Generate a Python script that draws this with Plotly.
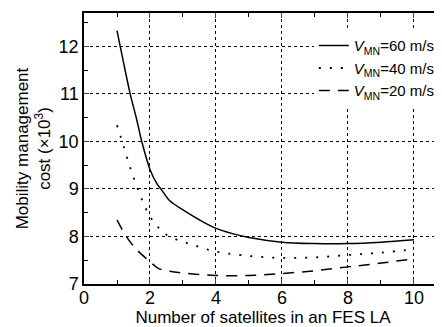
import plotly.graph_objects as go

x60 = [1, 1.2, 1.4, 1.6, 1.75, 2, 2.2, 2.35, 2.6, 3, 3.5, 4, 4.5, 5, 6, 7, 8, 9, 10]
y60 = [12.33, 11.65, 11.0, 10.45, 10.0, 9.41, 9.12, 8.98, 8.75, 8.56, 8.35, 8.17, 8.06, 7.98, 7.88, 7.85, 7.85, 7.88, 7.93]

x40 = [1, 1.2, 1.4, 1.6, 1.8, 2, 2.25, 2.55, 3, 3.5, 4, 5, 6, 7, 8, 9, 10]
y40 = [10.34, 9.9, 9.45, 9.05, 8.7, 8.42, 8.19, 8.01, 7.89, 7.78, 7.68, 7.59, 7.55, 7.56, 7.61, 7.66, 7.73]

x20 = [1, 1.3, 1.6, 2, 2.25, 2.6, 3, 3.5, 4, 5, 6, 7, 8, 9, 10]
y20 = [8.35, 7.98, 7.72, 7.47, 7.33, 7.27, 7.23, 7.2, 7.18, 7.18, 7.22, 7.28, 7.36, 7.44, 7.53]

names = ["<i>V</i><sub>MN</sub>=60 m/s", "<i>V</i><sub>MN</sub>=40 m/s", "<i>V</i><sub>MN</sub>=20 m/s"]

x_ticks = [0, 2, 4, 6, 8, 10]
y_ticks = [7, 8, 9, 10, 11, 12]
x_minor = [1, 3, 5, 7, 9]
y_minor = [7.5, 8.5, 9.5, 10.5, 11.5, 12.5]

X_RANGE = [0, 10.85]
Y_RANGE = [7, 12.7]

fig = go.Figure()
fig.add_trace(go.Scatter(x=x60, y=y60, mode="lines", name=names[0],
                         line=dict(color="black", width=1.5, shape="spline")))
fig.add_trace(go.Scatter(x=x40, y=y40, mode="lines", name=names[1],
                         line=dict(color="black", width=1.8, dash="2px,9px", shape="spline")))
fig.add_trace(go.Scatter(x=x20, y=y20, mode="lines", name=names[2],
                         line=dict(color="black", width=1.5, dash="11px,8px", shape="spline")))

font = "Liberation Sans, Arial, sans-serif"
fig.update_layout(
    width=434, height=319,
    margin=dict(l=76, r=0, t=5, b=43, autoexpand=False),
    paper_bgcolor="white", plot_bgcolor="white",
    font=dict(family=font, size=18, color="black"),
    showlegend=True,
    legend=dict(x=0.642, y=0.94, xanchor="left", yanchor="top",
                bgcolor="white", borderwidth=0, font=dict(size=15),
                tracegroupgap=0, itemwidth=30),
    xaxis=dict(range=X_RANGE, tickvals=x_ticks, ticks="inside", ticklen=5,
               ticklabelstandoff=-3,
               showline=True, linecolor="black", linewidth=1.5, mirror="ticks",
               showgrid=True, gridcolor="black", griddash="dot", gridwidth=1,
               zeroline=False, automargin=True,
               title=dict(text="Number of satellites in an FES LA", font=dict(size=17), standoff=2)),
    yaxis=dict(range=Y_RANGE, tickvals=y_ticks, ticks="inside", ticklen=5,
               showline=True, linecolor="black", linewidth=1.5, mirror="ticks",
               showgrid=True, gridcolor="black", griddash="dot", gridwidth=1,
               zeroline=False, automargin=True,
               title=dict(text="Mobility management<br>cost (×10<sup>3</sup>)", font=dict(size=17), standoff=4)),
    xaxis2=dict(range=X_RANGE, overlaying="x", anchor="y", side="bottom", tickvals=x_minor,
                ticks="inside", ticklen=4, tickcolor="black", showticklabels=False,
                showgrid=False, zeroline=False, showline=False, mirror="ticks", automargin=False),
    yaxis2=dict(range=Y_RANGE, overlaying="y", anchor="x", side="left", tickvals=y_minor,
                ticks="inside", ticklen=4, tickcolor="black", showticklabels=False,
                showgrid=False, zeroline=False, showline=False, mirror="ticks", automargin=False),
)
# invisible helper trace to activate the minor-tick axes
fig.add_trace(go.Scatter(x=[X_RANGE[0]], y=[Y_RANGE[0]], xaxis="x2", yaxis="y2",
                         mode="markers", marker=dict(opacity=0), showlegend=False, hoverinfo="skip"))

fig.write_html("out.html")
